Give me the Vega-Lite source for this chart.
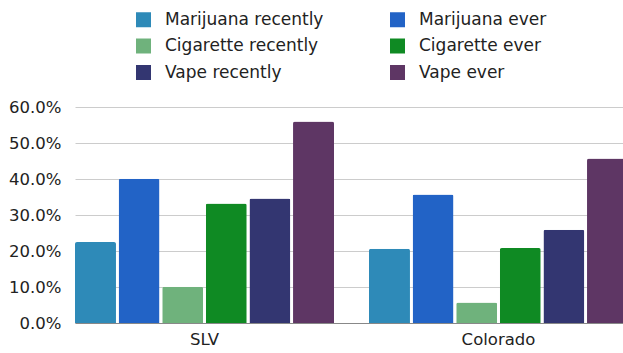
{
  "$schema": "https://vega.github.io/schema/vega-lite/v6.json",
  "autosize": {"type": "none"},
  "width": 548,
  "height": 216,
  "padding": {"left": 75, "top": 107, "right": 0, "bottom": 30},
  "background": "white",
  "config": {
    "font": "DejaVu Sans",
    "view": {"stroke": null}
  },
  "data": {
    "values": [
      {"region": "SLV", "measure": "Marijuana recently", "rate": 0.225},
      {"region": "SLV", "measure": "Marijuana ever", "rate": 0.401},
      {"region": "SLV", "measure": "Cigarette recently", "rate": 0.101},
      {"region": "SLV", "measure": "Cigarette ever", "rate": 0.332},
      {"region": "SLV", "measure": "Vape recently", "rate": 0.346},
      {"region": "SLV", "measure": "Vape ever", "rate": 0.56},
      {"region": "Colorado", "measure": "Marijuana recently", "rate": 0.206},
      {"region": "Colorado", "measure": "Marijuana ever", "rate": 0.357},
      {"region": "Colorado", "measure": "Cigarette recently", "rate": 0.057},
      {"region": "Colorado", "measure": "Cigarette ever", "rate": 0.208},
      {"region": "Colorado", "measure": "Vape recently", "rate": 0.259},
      {"region": "Colorado", "measure": "Vape ever", "rate": 0.457}
    ]
  },
  "mark": {"type": "bar", "cornerRadiusTopLeft": 2, "cornerRadiusTopRight": 2},
  "encoding": {
    "x": {
      "field": "region",
      "type": "nominal",
      "sort": ["SLV", "Colorado"],
      "scale": {"range": [0, 553], "paddingInner": 0.119, "paddingOuter": 0},
      "axis": {
        "title": null,
        "labelAngle": 0,
        "labelFontSize": 16.5,
        "labelColor": "#222222",
        "labelPadding": 8,
        "ticks": false,
        "domainColor": "#888888",
        "domainWidth": 1
      }
    },
    "xOffset": {
      "field": "measure",
      "type": "nominal",
      "sort": ["Marijuana recently", "Marijuana ever", "Cigarette recently", "Cigarette ever", "Vape recently", "Vape ever"],
      "scale": {"paddingInner": 0.06, "paddingOuter": 0}
    },
    "y": {
      "field": "rate",
      "type": "quantitative",
      "scale": {"domain": [0, 0.6], "nice": false},
      "axis": {
        "title": null,
        "values": [0, 0.1, 0.2, 0.3, 0.4, 0.5, 0.6],
        "format": ".1%",
        "labelFontSize": 16.5,
        "labelColor": "#222222",
        "labelPadding": 14,
        "ticks": false,
        "domain": false,
        "gridColor": "#cccccc",
        "gridWidth": 1
      }
    },
    "color": {
      "field": "measure",
      "type": "nominal",
      "sort": ["Marijuana recently", "Marijuana ever", "Cigarette recently", "Cigarette ever", "Vape recently", "Vape ever"],
      "scale": {
        "domain": ["Marijuana recently", "Marijuana ever", "Cigarette recently", "Cigarette ever", "Vape recently", "Vape ever"],
        "range": ["#2e8ab8", "#2263c6", "#6fb27c", "#0f8a23", "#333671", "#5e3664"]
      },
      "legend": {
        "title": null,
        "orient": "none",
        "legendX": 60,
        "legendY": -96,
        "columns": 2,
        "direction": "horizontal",
        "columnPadding": 65,
        "rowPadding": 8.5,
        "symbolType": "square",
        "symbolSize": 225,
        "symbolStrokeWidth": 0,
        "symbolOpacity": 1,
        "labelFontSize": 17,
        "labelColor": "#222222",
        "labelOffset": 13,
        "labelLimit": 300
      }
    }
  }
}
